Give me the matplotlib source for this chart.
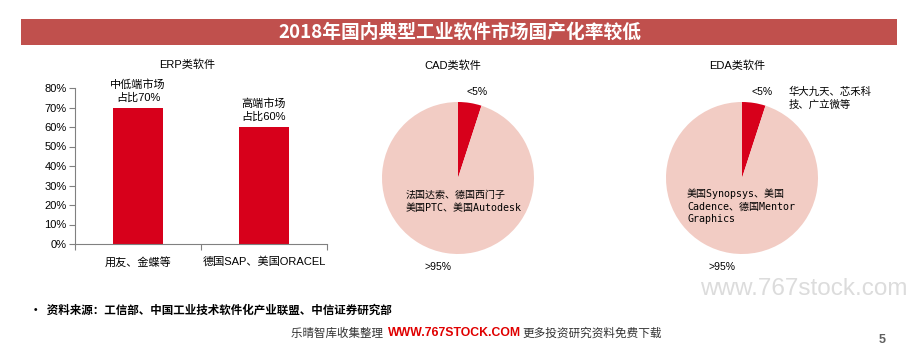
import matplotlib.pyplot as plt
import numpy as np

plt.rcParams['font.family'] = ['Liberation Sans', 'Noto Sans CJK SC']

# ERP bar data
erp_cats = ["用友、金蝶等", "德国SAP、美国ORACEL"]
erp_vals = [0.70, 0.60]
erp_notes = ["中低端市场\n占比70%", "高端市场\n占比60%"]
y_ticks = np.arange(0, 0.81, 0.1)

# pie data (domestic share, foreign share)
cad_share = [5, 95]
eda_share = [5, 95]
cad_labels = ["<5%", ">95%"]
eda_labels = ["<5%", ">95%"]

RED = "#D7001B"
PINK = "#F2CCC4"
W, H = 923, 357

fig = plt.figure(figsize=(W / 100, H / 100), dpi=100)


def px(x, y):
    return x / W, 1 - y / H


def box(x0, y0, x1, y1):
    return [x0 / W, 1 - y1 / H, (x1 - x0) / W, (y1 - y0) / H]


# title band
band = fig.add_axes(box(21, 19, 897, 45))
band.set_facecolor("#C0504D")
band.set_xticks([])
band.set_yticks([])
for s in band.spines.values():
    s.set_visible(False)
fig.text(*px(460, 32), "2018年国内典型工业软件市场国产化率较低", color="white",
         fontsize=13.5, fontweight="bold", ha="center", va="center",
         family=['Noto Sans CJK SC'])

# ERP bars
ax = fig.add_axes(box(75, 88, 327, 244))
xs = np.arange(len(erp_cats))
ax.bar(xs, erp_vals, width=0.4, color=RED)
ax.set_xlim(-0.5, 1.5)
ax.set_ylim(0, 0.8)
ax.set_yticks(y_ticks)
ax.set_yticklabels([f"{int(round(v * 100))}%" for v in y_ticks], fontsize=8)
ax.set_xticks([-0.5, 0.5, 1.5])
ax.set_xticklabels([])
ax.set_xticks(xs, minor=True)
ax.set_xticklabels(erp_cats, minor=True, fontsize=8)
ax.tick_params(axis="x", which="minor", length=0, pad=9)
ax.tick_params(axis="x", which="major", length=4, color="#808080")
ax.tick_params(axis="y", length=4, color="#808080", pad=2)
for side in ["top", "right"]:
    ax.spines[side].set_visible(False)
ax.spines["left"].set_color("#808080")
ax.spines["bottom"].set_color("#808080")
for x, v, note in zip(xs, erp_vals, erp_notes):
    ax.text(x, v + 0.025, note, ha="center", va="bottom", fontsize=8,
            linespacing=1.3)
fig.text(*px(187, 65), "ERP类软件", fontsize=8, ha="center", va="center")


def draw_pie(cx, cy, shares, labels, title, inner, tx, ty, lab_pos):
    r = 76
    pa = fig.add_axes(box(cx - r, cy - r, cx + r, cy + r))
    pa.pie(shares, colors=[RED, PINK], startangle=90, counterclock=False,
           radius=1)
    pa.set_xlim(-1, 1)
    pa.set_ylim(-1, 1)
    pa.set_aspect("equal")
    fig.text(*px(cx - 5, 66), title, fontsize=8, ha="center", va="center")
    for lab, (lx, ly) in zip(labels, lab_pos):
        fig.text(*px(lx, ly), lab, fontsize=7.5, ha="center", va="center")
    fig.text(*px(tx, ty), inner, fontsize=7.2, ha="left", va="top",
             family=['DejaVu Sans Mono', 'Noto Sans CJK SC'], linespacing=1.35)


draw_pie(458, 178, cad_share, cad_labels, "CAD类软件",
         "法国达索、德国西门子\n美国PTC、美国Autodesk", 406, 190,
         [(477, 92), (438, 267)])
draw_pie(742, 178, eda_share, eda_labels, "EDA类软件",
         "美国Synopsys、美国\nCadence、德国Mentor\nGraphics", 687, 188,
         [(762, 92), (722, 267)])
fig.text(*px(789, 98), "华大九天、芯禾科\n技、广立微等", fontsize=7.5,
         ha="left", va="center", linespacing=1.3,
         family=['Noto Sans CJK SC'])

# footer
fig.text(*px(700, 289), "www.767stock.com", fontsize=17.5, color="#DCDCDC",
         ha="left", va="center")
fig.text(*px(30, 310), "•  资料来源：工信部、中国工业技术软件化产业联盟、中信证券研究部",
         fontsize=8.3, fontweight="bold", ha="left", va="center",
         family=['Noto Sans CJK SC'])
fig.text(*px(386, 333), "乐晴智库收集整理 ", fontsize=8.3, ha="right", va="center",
         family=['Noto Sans CJK SC'], color="#333333")
fig.text(*px(388, 333), "WWW.767STOCK.COM", fontsize=8.8, ha="left", va="center",
         fontweight="bold", color="#E00000")
fig.text(*px(522, 333), "更多投资研究资料免费下载", fontsize=8.4, ha="left",
         va="center", family=['Noto Sans CJK SC'], color="#333333")
fig.text(*px(882, 340), "5", fontsize=9, fontweight="bold", color="#606060",
         ha="center", va="center")

fig.savefig("out.png", dpi=100)
